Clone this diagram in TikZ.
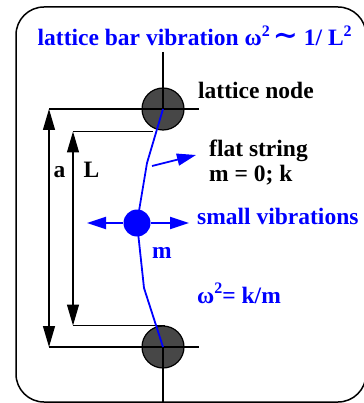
\documentclass[tikz,border=0pt]{standalone}
\usepackage{fontspec}
\setmainfont{Liberation Serif}
\newfontfamily\symfont{DejaVu Serif}
\usetikzlibrary{arrows.meta,positioning}
\newcommand{\sqr}{\raisebox{0.42em}{\fontsize{16}{16}\selectfont 2}}
\tikzset{
  boxframe/.style={draw,line width=1.5pt,rounded corners=28pt},
  latnode/.style={circle,draw,line width=1.2pt,fill=black!72,minimum size=42pt,inner sep=0pt},
  massnode/.style={circle,fill=blue,minimum size=27pt,inner sep=0pt},
  dimln/.style={line width=1.2pt},
  dimarr/.style={{Triangle[length=21pt,width=12pt]}-{Triangle[length=21pt,width=12pt]},line width=1.2pt},
  strng/.style={blue,line width=1.8pt},
  varr/.style={-{Triangle[length=19pt,width=12pt]},blue,line width=1.8pt},
  lbl/.style={font=\fontsize{23.5}{26}\selectfont\bfseries,anchor=base west,inner sep=0pt},
  bluelbl/.style={lbl,text=blue}
}
\begin{document}
\begin{tikzpicture}[x=1pt,y=-1pt]
  \useasboundingbox (0,0) rectangle (363,403);
  \draw[boxframe] (16,7) rectangle (366,402);

  \node[bluelbl] (title) at (37.5,46) {lattice bar vibration ω\sqr\hspace{3pt}{\symfont\fontsize{30}{30}\selectfont ∼}\hspace{6pt}1/ L\sqr};

  \node[latnode] (topnode) at (163,109) {};
  \node[latnode] (botnode) at (163,347) {};
  \node[massnode] (mass) at (137,223) {};

  \coordinate (topstem) at (163,52);
  \coordinate (botstem) at (163,403);
  \coordinate (atop) at (49,109);
  \coordinate (abot) at (49,347);
  \coordinate (atopend) at (199,109);
  \coordinate (abotend) at (199,347);
  \coordinate (ltop) at (73,131.5);
  \coordinate (lbot) at (73,325.5);
  \coordinate (ltopend) at (153,131.5);
  \coordinate (lbotend) at (165,325.5);
  \coordinate (bendA) at (147,163);
  \coordinate (bendB) at (144,288);
  \coordinate (strpt) at (152,166);
  \coordinate (flattip) at (196,155);
  \coordinate (vibL) at (87,223);
  \coordinate (vibR) at (189,223);

  \draw[dimln] (topstem) -- (topnode.center);
  \draw[dimln] (botnode.center) -- (botstem);
  \draw[dimln] (atop) -- (atopend);
  \draw[dimln] (abot) -- (abotend);
  \draw[dimln] (ltop) -- (ltopend);
  \draw[dimln] (lbot) -- (lbotend);
  \draw[dimarr] (atop) -- (abot);
  \draw[dimarr] (ltop) -- (lbot);

  \draw[strng] (topnode.center) -- (bendA) -- (mass.center) -- (bendB) -- (botnode.center);
  \draw[varr] (strpt) -- (flattip);
  \draw[varr] (mass.west) -- (vibL);
  \draw[varr] (mass.east) -- (vibR);

  \node[lbl] (alab) at (53.5,178) {a};
  \node[lbl] (llab) at (83.5,178) {L};
  \node[lbl] (nodelab) at (198,99) {lattice node};
  \node[lbl] (flatlab) at (209,157) {flat string};
  \node[lbl] (springlab) at (209,181) {m = 0; k};
  \node[bluelbl] (viblab) at (197,224) {small vibrations};
  \node[bluelbl] (masslab) at (152,258) {m};
  \node[bluelbl] (freqlab) at (197,303) {ω\sqr= k/m};
\end{tikzpicture}
\end{document}
